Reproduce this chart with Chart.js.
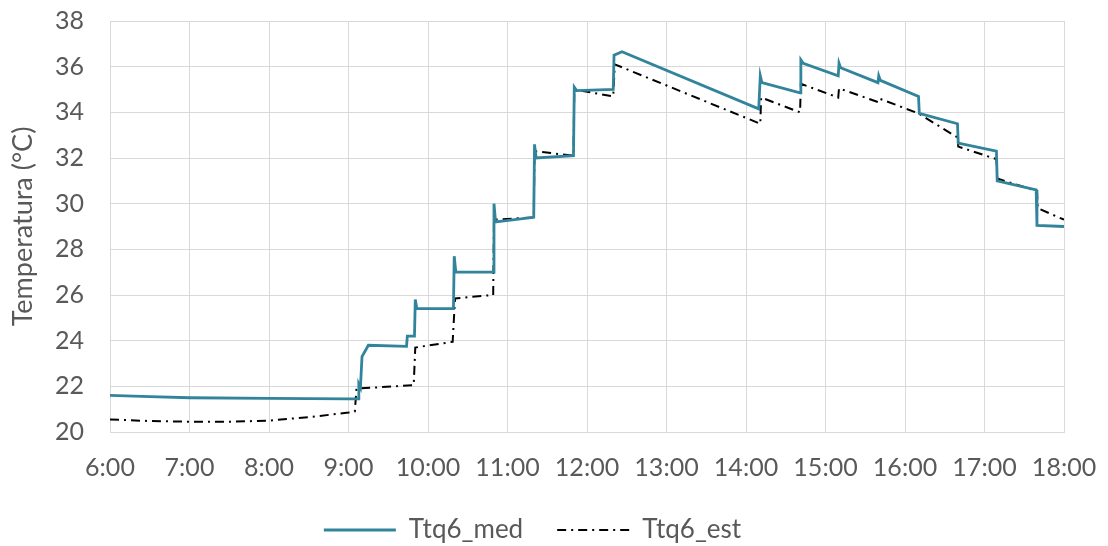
<!DOCTYPE html>
<html>
<head>
<meta charset="utf-8">
<script src="https://cdn.jsdelivr.net/npm/chart.js@4"></script>
<style>
  html, body { margin: 0; padding: 0; background: #fff; overflow: hidden; }
  #wrap { width: 1108px; height: 553px; }
</style>
</head>
<body>
<div id="wrap"><canvas id="c"></canvas></div>
<script>
// measured series, time in hours
const medTime = [6.0, 6.5, 7.0, 8.0, 9.0, 9.12, 9.13, 9.15, 9.17, 9.25, 9.73, 9.74, 9.83, 9.84, 9.86,
  10.32, 10.33, 10.35, 10.82, 10.83, 10.85, 11.33, 11.34, 11.36, 11.83, 11.84, 11.87, 12.33, 12.34, 12.44,
  14.16, 14.18, 14.2, 14.68, 14.69, 14.72, 15.16, 15.17, 15.19, 15.66, 15.67, 15.69, 16.17, 16.18,
  16.66, 16.67, 17.15, 17.16, 17.65, 17.66, 18.0]
const medTemp = [21.6, 21.55, 21.5, 21.47, 21.45, 21.45, 22.1, 21.95, 23.3, 23.8, 23.75, 24.2, 24.2, 25.8, 25.4,
  25.4, 27.7, 27.0, 27.0, 30.0, 29.2, 29.4, 32.6, 32.0, 32.1, 35.1, 34.95, 35.0, 36.5, 36.65,
  34.15, 35.6, 35.3, 34.85, 36.3, 36.15, 35.6, 36.15, 35.95, 35.3, 35.6, 35.4, 34.7, 33.95,
  33.5, 32.65, 32.3, 31.0, 30.6, 29.05, 29.0]

// estimated series
const estTime = [6.0, 6.5, 7.0, 7.5, 8.0, 8.5, 9.0, 9.08, 9.1, 9.82, 9.84, 10.31, 10.34, 10.82, 10.83,
  11.33, 11.34, 11.83, 11.84, 12.33, 12.35, 14.18, 14.19, 14.68, 14.69, 15.16, 15.17, 15.66, 15.68,
  16.17, 16.66, 16.67, 17.15, 17.16, 17.66, 17.67, 18.0]
const estTemp = [20.55, 20.48, 20.45, 20.45, 20.5, 20.65, 20.85, 20.9, 21.9, 22.05, 23.7, 23.95, 25.85, 26.0, 29.3,
  29.4, 32.3, 32.1, 35.0, 34.7, 36.1, 33.5, 34.65, 34.0, 35.25, 34.65, 35.05, 34.45, 34.6,
  33.95, 32.9, 32.5, 31.95, 31.1, 30.55, 29.8, 29.3]

const hourTicks = [6, 7, 8, 9, 10, 11, 12, 13, 14, 15, 16, 17, 18]
const tempTicks = [20, 22, 24, 26, 28, 30, 32, 34, 36, 38]

function toPoints(xs, ys){
    return xs.map((x, i) => ({x: x, y: ys[i]}))
}

// legend swatches should follow the dataset line, not the (hidden) points
function lineLabels(chart){
    const items = Chart.defaults.plugins.legend.labels.generateLabels(chart)
    return items.map((item, i) => {
        const ds = chart.data.datasets[i]
        item.lineDash = ds.borderDash || []
        item.lineWidth = ds.borderWidth
        item.strokeStyle = ds.borderColor
        item.pointStyle = "line"
        return item
    })
}

const fontFam = "Lato, 'DejaVu Sans', sans-serif"
const grey = "#595959"
const gridGrey = "#d9d9d9"

const chart = new Chart(document.getElementById("c"), {
    type: "line",
    data: {
        datasets: [
            {
                label: "Ttq6_med",
                data: toPoints(medTime, medTemp),
                borderColor: "#31849b",
                backgroundColor: "#31849b",
                borderWidth: 2.8,
                pointRadius: 0,
                tension: 0
            },
            {
                label: "Ttq6_est",
                data: toPoints(estTime, estTemp),
                borderColor: "#000",
                backgroundColor: "#000",
                borderWidth: 2,
                borderDash: [9, 5, 2, 5],
                pointRadius: 0,
                tension: 0
            }
        ]
    },
    options: {
        responsive: true,
        maintainAspectRatio: false,
        animation: false,
        layout: {padding: {left: 1, right: 44, top: 21, bottom: 0}},
        plugins: {
            legend: {
                position: "bottom",
                labels: {
                    usePointStyle: true,
                    pointStyle: "line",
                    pointStyleWidth: 72,
                    boxHeight: 26,
                    padding: 34,
                    color: grey,
                    font: {family: fontFam, size: 26},
                    generateLabels: lineLabels
                }
            },
            tooltip: {enabled: false}
        },
        scales: {
            x: {
                type: "linear",
                min: 6,
                max: 18,
                afterBuildTicks: axis => { axis.ticks = hourTicks.map(v => ({value: v})) },
                afterFit: axis => { axis.height = 51 },
                ticks: {
                    color: grey,
                    font: {family: fontFam, size: 25},
                    maxRotation: 0,
                    padding: 2,
                    callback: v => v + ":00"
                },
                grid: {color: gridGrey, drawTicks: true, tickLength: 19, tickColor: "rgba(0,0,0,0)"},
                border: {color: gridGrey}
            },
            y: {
                min: 20,
                max: 38,
                afterBuildTicks: axis => { axis.ticks = tempTicks.map(v => ({value: v})) },
                afterFit: axis => { axis.width = 109 },
                ticks: {
                    color: grey,
                    font: {family: fontFam, size: 25},
                    padding: 2
                },
                grid: {color: gridGrey, drawTicks: true, tickLength: 24, tickColor: "rgba(0,0,0,0)"},
                border: {color: gridGrey},
                title: {
                    display: true,
                    text: "Temperatura (°C)",
                    color: grey,
                    padding: {top: 6, bottom: 0},
                    font: {family: fontFam, size: 27}
                }
            }
        }
    }
})
</script>
</body>
</html>
